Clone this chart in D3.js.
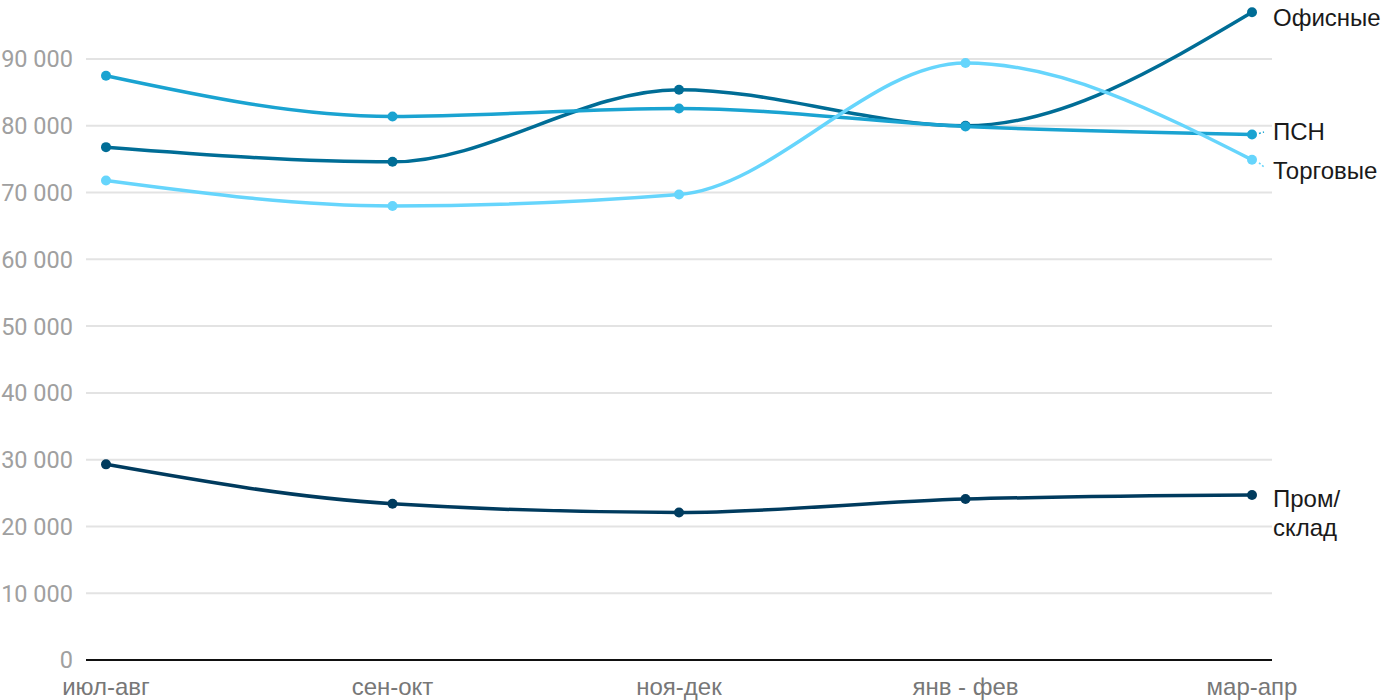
<!DOCTYPE html>
<html><head><meta charset="utf-8">
<script src="https://cdn.jsdelivr.net/npm/d3@7"></script>
<style>body{margin:0;background:#fff}</style>
</head><body>
<svg id="c" width="1400" height="700"></svg>
<script>
const categories = ["июл-авг","сен-окт","ноя-дек","янв - фев","мар-апр"];
const office = [76800, 74600, 85400, 80000, 97000];
const psn = [87500, 81400, 82600, 79900, 78700];
const retail = [71800, 68000, 69700, 89400, 74900];
const warehouse = [29300, 23400, 22100, 24100, 24700];
const yTicks = [0,10000,20000,30000,40000,50000,60000,70000,80000,90000];

const series = [
  {name:["Офисные"], values:office, color:"#006d96", labelY:17},
  {name:["ПСН"], values:psn, color:"#1aa3d1", labelY:131, connector:true},
  {name:["Торговые"], values:retail, color:"#66d5fc", labelY:170, connector:true},
  {name:["Пром/","склад"], values:warehouse, color:"#003b5e", labelY:498}
];

const svg = d3.select("#c");
const x = d3.scalePoint().domain(categories).range([106,1252]);
const y = d3.scaleLinear().domain([0,90000]).range([660,59]);

// grid
svg.append("g").selectAll("line").data(yTicks.filter(d=>d>0)).join("line")
  .attr("x1",86).attr("x2",1272).attr("y1",d=>y(d)).attr("y2",d=>y(d))
  .attr("stroke","#e3e3e3").attr("stroke-width",2);

// y labels
svg.append("g").selectAll("text").data(yTicks).join("text")
  .attr("x",73).attr("y",d=>y(d)).attr("dy","0.36em").attr("text-anchor","end")
  .attr("font-family","Roboto").attr("font-size",23.5).attr("fill","#a0a0a0")
  .text(d=>d===0?"0":d3.format(",")(d).replace(/,/g," "));

// axis
svg.append("line").attr("x1",86).attr("x2",1272).attr("y1",y(0)).attr("y2",y(0))
  .attr("stroke","#111").attr("stroke-width",2);

svg.append("g").selectAll("text").data(categories).join("text")
  .attr("x",d=>x(d)).attr("y",695).attr("text-anchor","middle")
  .attr("font-family","Liberation Sans, Arial").attr("font-size",24).attr("fill","#777")
  .text(d=>d);

const line = d3.line().x((d,i)=>x(categories[i])).y(d=>y(d)).curve(d3.curveMonotoneX);

series.forEach(s=>{
  const g = svg.append("g");
  g.append("path").attr("d",line(s.values)).attr("fill","none")
    .attr("stroke",s.color).attr("stroke-width",3.5);
  g.selectAll("circle").data(s.values).join("circle")
    .attr("cx",(d,i)=>x(categories[i])).attr("cy",d=>y(d)).attr("r",5).attr("fill",s.color);
  const lastY = y(s.values[s.values.length-1]);
  if(s.connector){
    g.append("line").attr("x1",1259).attr("y1",lastY + (s.labelY-lastY)*0.3)
      .attr("x2",1264).attr("y2",lastY + (s.labelY-lastY)*0.7)
      .attr("stroke",s.color).attr("stroke-width",1.5).attr("stroke-dasharray","2,2");
  }
  const t = g.append("text").attr("x",1273).attr("y",s.labelY)
    .attr("font-family","Liberation Sans, Arial").attr("font-size",24).attr("fill","#1a1a1a");
  s.name.forEach((n,i)=>t.append("tspan").attr("x",1273).attr("dy",i===0?"0.36em":"29px").text(n));
});
</script>
</body></html>
